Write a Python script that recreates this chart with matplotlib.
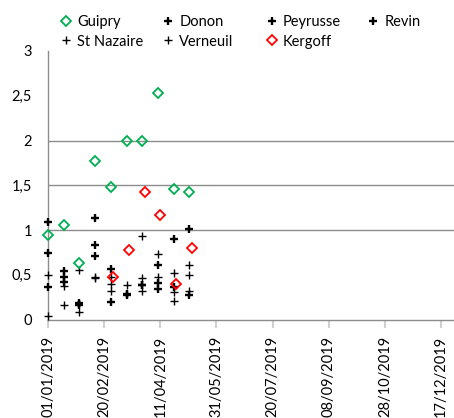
import numpy as np
import matplotlib
matplotlib.use("Agg")
import matplotlib.pyplot as plt
import matplotlib.dates as mdates
from matplotlib.ticker import FixedLocator, FuncFormatter

plt.rcParams['font.family'] = ['Lato', 'DejaVu Sans']

# ---- data ----
dates_main = ['2019-01-01', '2019-01-15', '2019-01-29', '2019-02-12', '2019-02-26',
              '2019-03-12', '2019-03-26', '2019-04-09', '2019-04-23', '2019-05-07']
dates_kergoff = ['2019-02-28', '2019-03-14', '2019-03-28', '2019-04-11', '2019-04-25', '2019-05-09']

guipry = [0.94, 1.06, 0.63, 1.77, 1.48, 2.00, 2.00, 2.53, 1.46, 1.42]
donon = [1.09, 0.54, 0.18, 1.13, 0.56, 0.27, 0.38, 0.61, 0.90, 1.01]
peyrusse = [0.74, 0.47, 0.16, 0.83, 0.20, 0.28, 0.39, 0.41, 0.36, 0.27]
revin = [0.36, 0.42, 0.17, 0.71, np.nan, np.nan, np.nan, 0.34, np.nan, np.nan]
st_nazaire = [0.50, 0.37, 0.55, 0.48, 0.48, 0.39, 0.93, 0.73, 0.52, 0.61]
verneuil = [0.04, 0.16, 0.08, 0.46, 0.40, np.nan, 0.46, 0.47, 0.31, 0.50]
extra_thin = [np.nan, np.nan, np.nan, np.nan, 0.32, np.nan, 0.32, np.nan, 0.21, 0.32]
kergoff = [0.48, 0.78, 1.42, 1.17, 0.40, 0.80]

xtick_dates = ['2019-01-01', '2019-02-20', '2019-04-11', '2019-05-31',
               '2019-07-20', '2019-09-08', '2019-10-28', '2019-12-17']
ytick_vals = [0, 0.5, 1, 1.5, 2, 2.5, 3]
grid_vals = [1, 1.5, 2]

# ---- figure ----
W, H = 454, 418
fig = plt.figure(figsize=(W / 100, H / 100), dpi=100)
left = 48 / W
bottom = (H - 319.5) / H
top = (H - 51) / H
ax = fig.add_axes([left, bottom, 1.0 - left, top - bottom])

xm = mdates.datestr2num(dates_main)
xk = mdates.datestr2num(dates_kergoff)

green = '#00B050'
red = '#FF0000'
gray = '#8C8C8C'

bold_kw = dict(linestyle='none', marker='+', color='black', markersize=5.8, markeredgewidth=1.7, clip_on=False)
thin_kw = dict(linestyle='none', marker='+', color='black', markersize=6, markeredgewidth=1.0, clip_on=False)
dia_kw = dict(linestyle='none', marker='D', markersize=4.6, markerfacecolor='none',
              markeredgewidth=1.3, clip_on=False, zorder=4)

h_guipry, = ax.plot(xm, guipry, markeredgecolor=green, label='Guipry', **dia_kw)
h_donon, = ax.plot(xm, donon, label='Donon', zorder=3, **bold_kw)
h_pey, = ax.plot(xm, peyrusse, label='Peyrusse', zorder=3, **bold_kw)
h_revin, = ax.plot(xm, revin, label='Revin', zorder=3, **bold_kw)
h_stn, = ax.plot(xm, st_nazaire, label='St Nazaire', zorder=3, **thin_kw)
h_ver, = ax.plot(xm, verneuil, label='Verneuil', zorder=3, **thin_kw)
ax.plot(xm, extra_thin, zorder=3, **thin_kw)
h_ker, = ax.plot(xk, kergoff, markeredgecolor=red, label='Kergoff', **dia_kw)

# axes limits
x0 = mdates.datestr2num('2019-01-01')
ax.set_xlim(x0, x0 + 361.6)
ax.set_ylim(0, 3)

# gridlines
for g in grid_vals:
    ax.axhline(g, color=gray, linewidth=1.0, zorder=1)

for s in ['top', 'right']:
    ax.spines[s].set_visible(False)
for s in ['left', 'bottom']:
    ax.spines[s].set_color(gray)
    ax.spines[s].set_linewidth(1.0)

# y ticks
ax.yaxis.set_major_locator(FixedLocator(ytick_vals))
ax.yaxis.set_major_formatter(FuncFormatter(lambda v, p: ('%g' % v).replace('.', ',')))
ax.yaxis.set_minor_locator(FixedLocator([0] + grid_vals))
ax.tick_params(axis='y', which='major', length=0, pad=11.5, labelsize=10.5, labelcolor='black')
ax.tick_params(axis='y', which='minor', length=5, width=1.0, color=gray)

# x ticks
ax.xaxis.set_major_locator(FixedLocator(mdates.datestr2num(xtick_dates)))
ax.xaxis.set_major_formatter(mdates.DateFormatter('%d/%m/%Y'))
ax.tick_params(axis='x', which='major', length=6, width=1.5, color='#D0D0D0', pad=6,
               labelsize=10.5, labelrotation=90, labelcolor='black')

# legend: 4 columns placed at fixed positions
cols = [([h_guipry, h_stn], 60.5), ([h_donon, h_ver], 162.5), ([h_pey, h_ker], 266), ([h_revin], 367.5)]
for hs, xpx in cols:
    leg = fig.legend(handles=hs, labels=[h.get_label() for h in hs], loc='upper left',
                     bbox_to_anchor=(xpx / W, 1 - 15 / H), frameon=False, fontsize=10.5,
                     handlelength=0.8, handletextpad=0.35, borderpad=0, borderaxespad=0,
                     labelspacing=0.38)

fig.savefig('out.png', dpi=100)
